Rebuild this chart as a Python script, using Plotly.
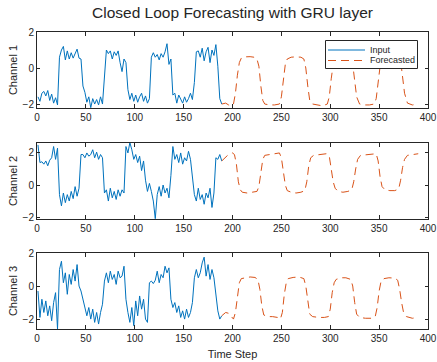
import plotly.graph_objects as go

# ---------------- data ----------------
input_t = list(range(1, 190, 2))

ch1_input = [-1.6,-1.85,-1.4,-1.3,-1.55,-1.25,-1.8,-1.45,-1.95,-1.65,
             -2.05,0.6,1.0,1.2,0.45,0.95,0.5,0.85,0.55,0.8,
             1.05,0.55,0.5,-1.0,-1.35,-1.9,-1.6,-2.2,-1.7,-2.0,
             -1.75,-2.05,-1.6,-2.0,-0.6,1.0,0.8,0.95,0.5,0.9,
             0.7,0.95,0.3,-0.2,0.5,0.3,-1.2,-1.75,-1.4,-1.85,
             -1.5,-1.9,-1.6,-1.4,-1.85,-1.55,-1.95,-1.7,0.6,0.85,
             0.6,0.75,0.45,0.8,0.6,0.9,1.35,0.2,0.5,-1.5,
             -1.4,-1.95,-1.5,-1.7,-1.95,-1.6,-1.9,-1.7,-1.4,-1.75,
             -0.8,0.9,0.95,0.6,1.1,0.4,0.9,1.15,0.3,1.0,
             0.7,1.3,0.1,-1.7,-2.0]

ch2_input = [2.5,1.4,1.45,1.3,1.5,1.2,1.55,1.7,2.4,1.6,
             2.3,-0.6,-1.3,-0.5,-1.1,-0.6,-1.0,-0.4,-0.85,-0.1,
             -0.7,-0.2,1.9,1.9,1.7,2.0,1.8,1.9,2.2,1.7,
             2.05,1.6,1.9,1.7,-0.5,-0.3,-1.0,-0.2,-0.8,-0.4,
             -0.9,-0.3,-0.7,-0.3,-0.5,2.4,2.0,2.65,2.2,1.6,
             1.9,1.4,1.8,0.9,1.5,0.3,-0.4,0.1,-0.4,-1.0,
             -2.1,-0.6,-0.1,-0.7,0.0,-0.5,-0.2,-0.8,0.6,2.4,
             1.6,1.9,1.4,2.0,1.3,1.7,1.5,2.1,1.6,0.4,
             -0.6,-1.0,-0.2,-0.9,-0.6,-1.2,-0.5,-0.8,-0.2,-1.4,
             -0.5,1.7,1.6,1.9,1.5]

ch3_input = [-0.3,-1.9,-0.8,-1.6,-0.9,-1.8,-1.2,-2.1,-1.0,-0.4,
             -2.6,1.0,1.5,0.2,0.8,-0.5,0.7,0.1,1.0,0.3,
             1.3,0.0,-0.3,-0.8,-1.2,-1.8,-1.3,-2.0,-1.4,-2.2,
             -1.6,-2.3,-1.6,-1.1,0.3,0.8,0.2,0.9,0.4,0.7,
             0.1,0.9,0.5,0.6,1.2,-0.8,-1.6,-2.2,-1.3,-2.4,
             -0.9,-1.8,-0.6,-1.4,-0.8,-2.0,-2.2,0.2,0.3,0.15,
             0.35,0.9,0.2,0.7,0.5,1.2,0.8,1.1,-0.8,-1.3,
             -1.0,-1.6,-1.2,-1.9,-1.5,-2.0,-1.4,-1.9,-1.6,-1.0,
             0.5,1.0,0.5,0.8,1.4,1.75,0.6,1.3,0.4,1.0,
             0.5,-0.7,-1.5,-2.0,-1.8]

ch1_fc_t = [193,196,199,201,203,205,207,209,213,218,222,225,227,229,231,233,238,243,248,250,
            252,254,256,260,265,270,273,275,277,279,282,287,292,297,299,301,303,305,310,316,
            321,323,325,327,330,335,340,345,347,349,351,353,358,364,370,372,374,376,379,384,390]
ch1_fc = [-1.95,-2.05,-2.1,-2.0,-1.4,-0.4,0.3,0.55,0.62,0.63,0.6,0.5,0.1,-1.0,-1.8,-2.0,-2.05,-2.05,-2.0,-1.6,
          -0.6,0.2,0.5,0.6,0.62,0.6,0.5,0.0,-1.0,-1.8,-2.0,-2.05,-2.1,-2.0,-1.6,-0.6,0.2,0.5,0.6,0.6,
          0.55,0.2,-0.7,-1.6,-2.0,-2.05,-2.05,-2.0,-1.7,-0.8,0.1,0.5,0.6,0.62,0.58,0.4,-0.4,-1.4,-1.95,-2.05,-2.0]

ch2_fc_t = [192,195,198,200,202,204,206,208,210,215,220,225,227,229,231,233,238,243,248,250,
            252,254,256,260,265,270,274,276,278,280,283,290,296,299,301,303,305,308,313,318,
            322,324,326,328,331,337,343,347,349,351,353,356,361,366,370,372,374,376,379,385,390]
ch2_fc = [1.7,1.85,1.95,2.0,1.9,1.3,0.2,-0.3,-0.45,-0.5,-0.45,-0.4,-0.1,0.8,1.6,1.85,1.9,1.95,2.0,1.7,
          0.8,0.0,-0.35,-0.45,-0.5,-0.45,-0.35,0.2,1.2,1.7,1.85,1.9,1.95,1.8,1.0,0.2,-0.2,-0.4,-0.45,-0.4,
          -0.3,0.2,1.0,1.6,1.85,1.9,1.95,1.95,1.5,0.5,-0.1,-0.3,-0.35,-0.35,-0.25,0.3,1.1,1.6,1.85,1.9,1.95]

ch3_fc_t = [193,196,199,201,203,205,207,209,213,218,223,226,228,230,232,236,241,246,249,251,
            253,255,257,262,268,273,275,277,279,282,288,294,298,300,302,304,306,311,316,321,
            323,325,327,330,336,342,346,348,350,352,355,360,366,369,371,373,375,378,384,390]
ch3_fc = [-1.6,-1.65,-1.9,-2.0,-1.6,-0.5,0.2,0.45,0.5,0.55,0.52,0.4,-0.2,-1.2,-1.75,-1.85,-1.85,-1.9,-2.0,-1.6,
          -0.5,0.2,0.45,0.52,0.55,0.45,0.0,-1.0,-1.7,-1.85,-1.9,-1.9,-1.85,-1.4,-0.4,0.2,0.4,0.5,0.5,0.4,
          0.0,-1.0,-1.7,-1.9,-1.95,-1.95,-1.85,-1.3,-0.3,0.3,0.45,0.5,0.48,0.35,-0.2,-1.0,-1.6,-1.85,-1.95,-1.9]

channels = ["Channel 1", "Channel 2", "Channel 3"]
series_names = ["Input", "Forecasted"]
x_ticks = [0, 50, 100, 150, 200, 250, 300, 350, 400]
y_ticks = [-2, 0, 2]
title_text = "Closed Loop Forecasting with GRU layer"
x_title = "Time Step"

# ---------------- style ----------------
BLUE = "#0072BD"
ORANGE = "#D95319"
AX = "#262626"
FONT = "Liberation Sans, Arial, sans-serif"
DASH = "8px,5px"

W, H = 437, 362
ml, mr, mt, mb = 37, 9, 32, 33
pw = W - ml - mr
ph = H - mt - mb

def dom(top_px, bot_px):
    return [(H - mb - bot_px) / ph, (H - mb - top_px) / ph]

def px_x(px):
    return (px - ml) / pw

def px_y(py):
    return (H - mb - py) / ph

domains = [dom(32, 108), dom(143, 219), dom(253, 329)]
yranges = [[-2.22, 2.0], [-2.12, 2.62], [-2.6, 2.0]]

inputs = [ch1_input, ch2_input, ch3_input]
fcs = [(ch1_fc_t, ch1_fc), (ch2_fc_t, ch2_fc), (ch3_fc_t, ch3_fc)]

fig = go.Figure()
for i in range(3):
    sfx = "" if i == 0 else str(i + 1)
    fig.add_trace(go.Scatter(x=input_t, y=inputs[i], mode="lines", name=series_names[0],
                             line=dict(color=BLUE, width=1), showlegend=False,
                             xaxis="x" + sfx, yaxis="y" + sfx))
    ft, fv = fcs[i]
    fig.add_trace(go.Scatter(x=[input_t[-1]] + ft, y=[inputs[i][-1]] + fv, mode="lines",
                             name=series_names[1],
                             line=dict(color=ORANGE, width=1, dash=DASH),
                             showlegend=False,
                             xaxis="x" + sfx, yaxis="y" + sfx))

axis_common = dict(showline=True, linecolor=AX, linewidth=1, mirror="allticks",
                   ticks="inside", tickcolor=AX, showgrid=False, zeroline=False,
                   automargin=False,
                   tickfont=dict(family=FONT, size=10, color=AX))

# MATLAB-style legend box (decoration in paper coordinates)
lg_x0, lg_x1, lg_y0, lg_y1 = 325.5, 417.5, 40.5, 68.5
shapes = [
    dict(type="rect", xref="paper", yref="paper", layer="above",
         x0=px_x(lg_x0), x1=px_x(lg_x1), y0=px_y(lg_y1), y1=px_y(lg_y0),
         fillcolor="white", line=dict(color=AX, width=1)),
    dict(type="line", xref="paper", yref="paper", layer="above",
         x0=px_x(328), x1=px_x(365), y0=px_y(50), y1=px_y(50),
         line=dict(color=BLUE, width=1)),
    dict(type="line", xref="paper", yref="paper", layer="above",
         x0=px_x(328), x1=px_x(365), y0=px_y(60.5), y1=px_y(60.5),
         line=dict(color=ORANGE, width=1, dash=DASH)),
]
annotations = [
    dict(text=series_names[0], xref="paper", yref="paper", x=px_x(368), y=px_y(50),
         xanchor="left", yanchor="middle", showarrow=False,
         font=dict(family=FONT, size=9, color=AX)),
    dict(text=series_names[1], xref="paper", yref="paper", x=px_x(368), y=px_y(60.5),
         xanchor="left", yanchor="middle", showarrow=False,
         font=dict(family=FONT, size=9, color=AX)),
]

layout = dict(
    width=W, height=H,
    margin=dict(l=ml, r=mr, t=mt, b=mb),
    paper_bgcolor="white", plot_bgcolor="white",
    font=dict(family=FONT, color=AX),
    title=dict(text=title_text, x=(ml + pw / 2) / W, xanchor="center",
               y=1 - 13 / H, yanchor="middle", font=dict(size=15.5, color=AX)),
    showlegend=False,
    shapes=shapes,
    annotations=annotations,
)

for i in range(3):
    sfx = "" if i == 0 else str(i + 1)
    xa = dict(axis_common, range=[0, 400], tickvals=x_ticks, ticklen=4,
              anchor="y" + sfx, domain=[0, 1])
    if i == 2:
        xa["title"] = dict(text=x_title, font=dict(family=FONT, size=11, color=AX), standoff=7)
    ya = dict(axis_common, range=yranges[i], tickvals=y_ticks, ticklen=3,
              anchor="x" + sfx, domain=domains[i],
              title=dict(text=channels[i], font=dict(family=FONT, size=11, color=AX), standoff=2))
    layout["xaxis" + sfx] = xa
    layout["yaxis" + sfx] = ya

fig.update_layout(**layout)
fig.write_html("out.html")
